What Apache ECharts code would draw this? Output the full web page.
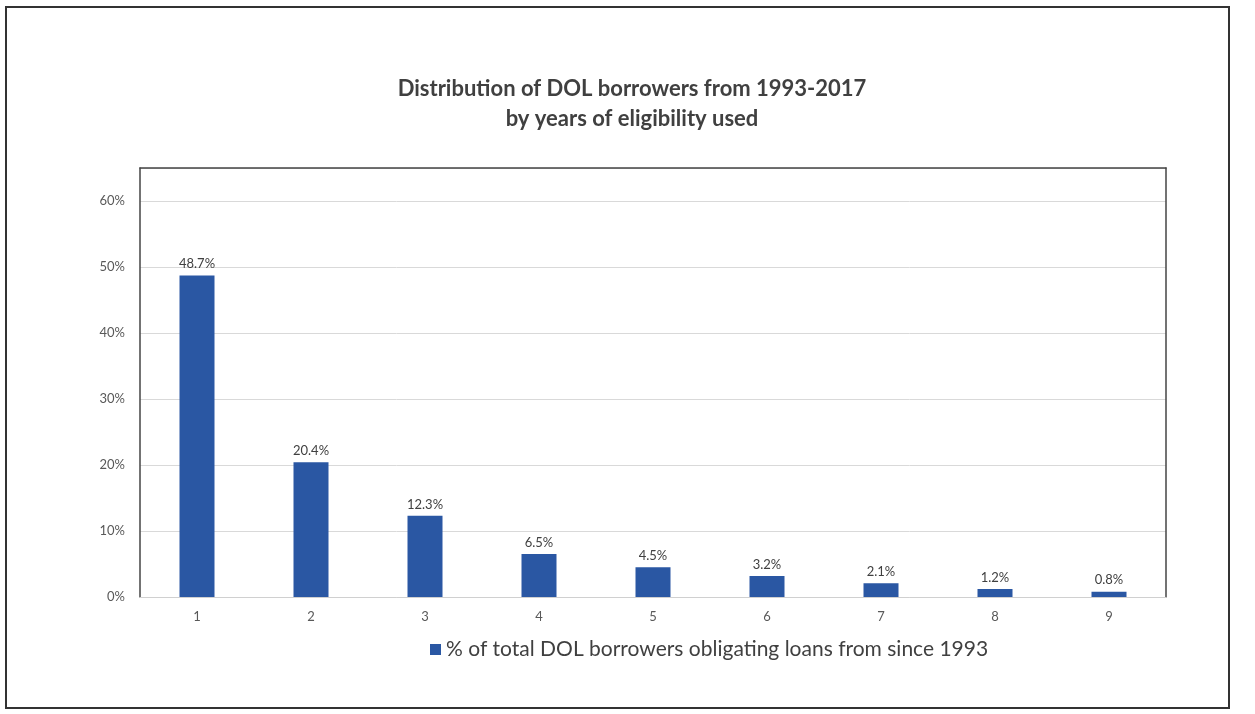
<!DOCTYPE html>
<html>
<head>
<meta charset="utf-8">
<script src="https://cdn.jsdelivr.net/npm/echarts@6/dist/echarts.min.js"></script>
<style>
  html, body { margin: 0; padding: 0; background: #fff; }
  #chart { width: 1255px; height: 714px; }
</style>
</head>
<body>
<div id="chart"></div>
<script>
// years of eligibility used
var years = ["1", "2", "3", "4", "5", "6", "7", "8", "9"];
// % of total DOL borrowers
var share = [48.7, 20.4, 12.3, 6.5, 4.5, 3.2, 2.1, 1.2, 0.8];
var seriesName = "% of total DOL borrowers obligating loans from since 1993";

var myChart = echarts.init(document.getElementById("chart"));
var font = "Lato, 'Open Sans', sans-serif";

myChart.setOption({
  backgroundColor: "#fff",
  textStyle: { fontFamily: font },
  title: {
    text: "Distribution of DOL borrowers from 1993-2017\nby years of eligibility used",
    left: 627,
    textAlign: "center",
    top: 69,
    textStyle: { fontSize: 22, fontWeight: "bold", color: "#404040", lineHeight: 30, fontFamily: font }
  },
  legend: {
    bottom: 49,
    left: 425,
    itemWidth: 11,
    itemHeight: 11,
    itemGap: 5,
    icon: "rect",
    textStyle: { fontSize: 21, color: "#404040", fontFamily: font }
  },
  grid: { left: 140, right: 89, top: 168, bottom: 117 },
  xAxis: [
    {
      type: "category",
      data: years,
      axisLine: { lineStyle: { color: "#d0d0d0" } },
      axisTick: { show: false },
      axisLabel: { color: "#595959", fontSize: 13, margin: 13 }
    },
    {
      type: "category",
      data: years,
      position: "top",
      axisLine: { onZero: false, lineStyle: { color: "#444", width: 1.5 } },
      axisTick: { show: false },
      axisLabel: { show: false }
    }
  ],
  yAxis: [
    {
      type: "value",
      min: 0,
      max: 65,
      interval: 10,
      axisLine: { show: true, lineStyle: { color: "#444", width: 1.5 } },
      axisTick: { show: false },
      splitLine: { lineStyle: { color: "#d9d9d9" } },
      axisLabel: {
        color: "#595959",
        fontSize: 13,
        margin: 15,
        formatter: function (v) { return v % 10 === 0 ? v + "%" : ""; }
      }
    },
    {
      type: "value",
      min: 0,
      max: 65,
      position: "right",
      axisLine: { show: true, onZero: false, lineStyle: { color: "#444", width: 1.5 } },
      axisTick: { show: false },
      axisLabel: { show: false },
      splitLine: { show: false }
    }
  ],
  series: [
    {
      name: seriesName,
      type: "bar",
      data: share,
      barWidth: 35,
      itemStyle: { color: "#2a57a3" },
      label: {
        show: true,
        position: "top",
        distance: 5,
        color: "#404040",
        fontSize: 13,
        formatter: function (p) { return p.value.toFixed(1) + "%"; }
      }
    }
  ],
  graphic: [
    {
      type: "rect",
      shape: { x: 6, y: 7, width: 1223, height: 701 },
      style: { fill: null, stroke: "#333", lineWidth: 2 },
      silent: true
    }
  ]
});
</script>
</body>
</html>
